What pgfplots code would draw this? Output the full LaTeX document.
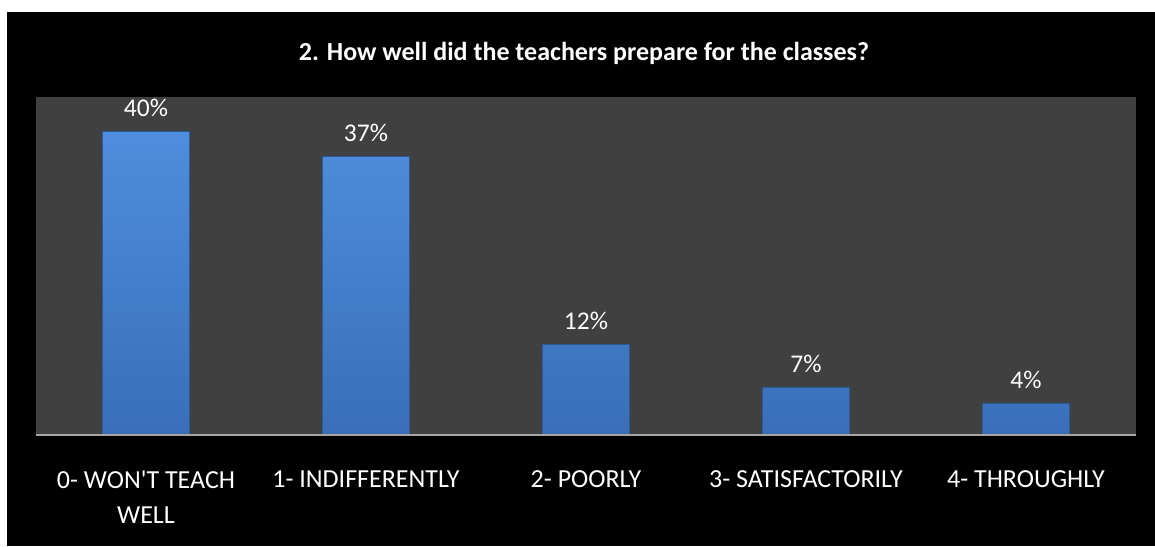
\documentclass[border=0pt]{standalone}
\usepackage{fontspec}
\setmainfont{Carlito}[Ligatures=TeXOff]
\usepackage{pgfplots}
\pgfplotsset{compat=1.18}
\definecolor{plotgray}{HTML}{404040}
\definecolor{axisgray}{HTML}{A6A6A6}
\definecolor{bartop}{HTML}{4E8EDC}
\definecolor{barbot}{HTML}{3A6EB8}
\definecolor{baredge}{HTML}{2C5A96}
\begin{document}
\begin{tikzpicture}
\fill[white] (0,0) rectangle (1155pt,546pt);
\fill[black] (7pt,0) rectangle (1155pt,534pt);
\begin{axis}[
  at={(36pt,111pt)}, anchor=south west,
  scale only axis, width=1100pt, height=338pt,
  xmin=-0.5, xmax=4.5, ymin=0, ymax=44.6,
  axis background/.style={fill=plotgray},
  axis line style={draw=none},
  ytick=\empty,
  xtick={0,1,2,3,4},
  xticklabels={{0- WON'T TEACH\\WELL},{1- INDIFFERENTLY},{2- POORLY},{3- SATISFACTORILY},{4- THROUGHLY}},
  xticklabel style={text=white, font=\fontsize{26}{35}\selectfont, align=center, anchor=north, yshift=-32pt},
  major tick length=0pt,
  clip=false,
  ybar, bar width=87pt,
  point meta=explicit symbolic,
  nodes near coords,
  every node near coord/.append style={text=white, font=\fontsize{25.5}{30}\selectfont, yshift=11pt},
]
\addplot[draw=baredge, line width=0.8pt, top color=bartop, bottom color=barbot] coordinates {
  (0,40.0) [40\%]
  (1,36.7) [37\%]
  (2,11.9) [12\%]
  (3,6.3) [7\%]
  (4,4.2) [4\%]
};
\draw[axisgray, line width=2pt] (axis cs:-0.5,0) -- (axis cs:4.5,0);
\end{axis}
\node[anchor=base, text=white, font=\fontsize{26}{32}\selectfont\bfseries] at (584pt,485pt) {2. How well did the teachers prepare for the classes?};
\end{tikzpicture}
\end{document}
